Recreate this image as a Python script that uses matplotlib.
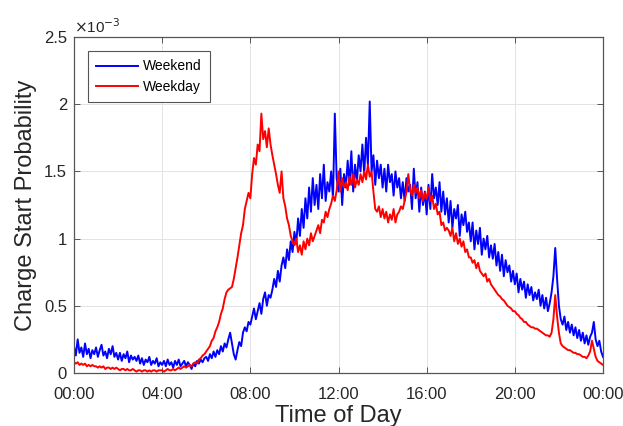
import numpy as np
import matplotlib
matplotlib.use('Agg')
import matplotlib.pyplot as plt

# charge start probability (units of 1e-3), one value every 5 minutes, 00:00 .. 24:00
weekend = [
    0.20, 0.13, 0.25, 0.15, 0.19, 0.12, 0.22, 0.14, 0.18, 0.11, 0.17, 0.14,
    0.19, 0.12, 0.17, 0.21, 0.13, 0.16, 0.11, 0.18, 0.14, 0.20, 0.12, 0.15,
    0.10, 0.15, 0.09, 0.14, 0.11, 0.16, 0.08, 0.13, 0.10, 0.12, 0.09, 0.13,
    0.07, 0.11, 0.06, 0.10, 0.08, 0.12, 0.06, 0.09, 0.07, 0.11, 0.05, 0.08,
    0.06, 0.09, 0.05, 0.10, 0.06, 0.08, 0.04, 0.09, 0.06, 0.10, 0.05, 0.07,
    0.09, 0.05, 0.08, 0.06, 0.03, 0.07, 0.05, 0.09, 0.07, 0.10, 0.08, 0.11,
    0.12, 0.09, 0.14, 0.11, 0.16, 0.12, 0.17, 0.14, 0.20, 0.16, 0.22, 0.19,
    0.25, 0.30, 0.22, 0.14, 0.10, 0.17, 0.23, 0.20, 0.30, 0.34, 0.31, 0.38,
    0.36, 0.42, 0.48, 0.40, 0.46, 0.52, 0.44, 0.55, 0.60, 0.50, 0.58, 0.56,
    0.62, 0.70, 0.64, 0.76, 0.68, 0.80, 0.86, 0.78, 0.92, 0.84, 0.98, 0.90,
    1.05, 0.96, 1.15, 1.02, 1.22, 1.08, 1.30, 1.15, 1.38, 1.20, 1.45, 1.25,
    1.40, 1.22, 1.48, 1.30, 1.55, 1.28, 1.42, 1.35, 1.50, 1.30, 1.93, 1.45,
    1.35, 1.52, 1.25, 1.48, 1.38, 1.58, 1.40, 1.65, 1.35, 1.55, 1.42, 1.62,
    1.50, 1.70, 1.48, 1.75, 1.55, 2.02, 1.50, 1.62, 1.40, 1.58, 1.45, 1.55,
    1.38, 1.52, 1.35, 1.55, 1.42, 1.48, 1.32, 1.50, 1.38, 1.45, 1.30, 1.42,
    1.28, 1.45, 1.35, 1.40, 1.22, 1.52, 1.30, 1.42, 1.20, 1.38, 1.25, 1.35,
    1.18, 1.40, 1.22, 1.48, 1.30, 1.38, 1.25, 1.42, 1.20, 1.35, 1.18, 1.30,
    1.12, 1.28, 1.08, 1.22, 1.15, 1.25, 1.02, 1.18, 1.10, 1.20, 1.05, 1.12,
    0.98, 1.12, 0.92, 1.06, 0.96, 1.08, 0.88, 1.00, 0.92, 1.02, 0.86, 0.95,
    0.85, 0.96, 0.80, 0.90, 0.76, 0.88, 0.72, 0.84, 0.75, 0.80, 0.68, 0.76,
    0.66, 0.74, 0.60, 0.70, 0.62, 0.68, 0.56, 0.66, 0.58, 0.64, 0.54, 0.60,
    0.55, 0.62, 0.50, 0.58, 0.48, 0.56, 0.46, 0.52, 0.60, 0.72, 0.93, 0.70,
    0.50, 0.40, 0.36, 0.42, 0.32, 0.38, 0.30, 0.36, 0.28, 0.34, 0.26, 0.32,
    0.24, 0.30, 0.22, 0.28, 0.21, 0.27, 0.30, 0.38, 0.25, 0.20, 0.24, 0.16,
    0.12]

weekday = [
    0.08, 0.07, 0.08, 0.06, 0.07, 0.06, 0.07, 0.05, 0.06, 0.05, 0.06, 0.05,
    0.05, 0.04, 0.05, 0.04, 0.05, 0.03, 0.04, 0.04, 0.03, 0.04, 0.03, 0.04,
    0.03, 0.02, 0.03, 0.03, 0.02, 0.03, 0.02, 0.02, 0.03, 0.02, 0.01, 0.02,
    0.02, 0.01, 0.02, 0.02, 0.01, 0.02, 0.01, 0.02, 0.02, 0.01, 0.02, 0.02,
    0.02, 0.01, 0.02, 0.03, 0.02, 0.02, 0.03, 0.02, 0.03, 0.04, 0.03, 0.04,
    0.05, 0.04, 0.05, 0.06, 0.05, 0.07, 0.08, 0.07, 0.10, 0.11, 0.13, 0.14,
    0.16, 0.18, 0.20, 0.24, 0.26, 0.31, 0.34, 0.38, 0.44, 0.48, 0.55, 0.60,
    0.62, 0.63, 0.64, 0.70, 0.78, 0.86, 0.95, 1.04, 1.10, 1.22, 1.28, 1.34,
    1.30, 1.48, 1.60, 1.55, 1.70, 1.65, 1.93, 1.74, 1.80, 1.68, 1.82, 1.70,
    1.62, 1.55, 1.48, 1.40, 1.34, 1.50, 1.30, 1.24, 1.15, 1.10, 1.02, 0.98,
    0.95, 1.00, 0.90, 0.95, 0.88, 0.98, 0.92, 1.00, 0.95, 1.04, 0.98, 1.02,
    1.06, 1.10, 1.04, 1.14, 1.12, 1.20, 1.16, 1.22, 1.26, 1.32, 1.28, 1.36,
    1.50, 1.35, 1.45, 1.38, 1.42, 1.36, 1.46, 1.40, 1.48, 1.38, 1.44, 1.40,
    1.48, 1.42, 1.50, 1.44, 1.55, 1.46, 1.50, 1.35, 1.22, 1.20, 1.24, 1.16,
    1.22, 1.15, 1.20, 1.12, 1.18, 1.14, 1.22, 1.12, 1.18, 1.20, 1.24, 1.22,
    1.28, 1.35, 1.48, 1.36, 1.32, 1.40, 1.34, 1.38, 1.30, 1.36, 1.28, 1.34,
    1.30, 1.38, 1.28, 1.32, 1.22, 1.26, 1.18, 1.20, 1.10, 1.12, 1.06, 1.08,
    1.06, 1.02, 1.08, 0.98, 1.04, 0.96, 1.00, 0.94, 0.98, 0.90, 0.92, 0.86,
    0.86, 0.82, 0.84, 0.78, 0.82, 0.76, 0.74, 0.72, 0.74, 0.68, 0.70, 0.66,
    0.64, 0.62, 0.60, 0.58, 0.57, 0.55, 0.54, 0.52, 0.50, 0.49, 0.48, 0.46,
    0.46, 0.44, 0.43, 0.41, 0.40, 0.38, 0.38, 0.36, 0.35, 0.34, 0.34, 0.33,
    0.33, 0.32, 0.31, 0.30, 0.29, 0.28, 0.28, 0.27, 0.30, 0.40, 0.58, 0.42,
    0.30, 0.22, 0.20, 0.19, 0.18, 0.17, 0.17, 0.16, 0.15, 0.15, 0.14, 0.14,
    0.13, 0.12, 0.12, 0.11, 0.13, 0.16, 0.24, 0.18, 0.12, 0.09, 0.08, 0.07,
    0.06]

hours = np.arange(len(weekend)) / 12.0
xticks = [0, 4, 8, 12, 16, 20, 24]
xticklabels = ['00:00', '04:00', '08:00', '12:00', '16:00', '20:00', '00:00']
yticks = [0, 0.5, 1, 1.5, 2, 2.5]
yticklabels = ['0', '0.5', '1', '1.5', '2', '2.5']

plt.rcParams['font.family'] = ['Liberation Sans', 'DejaVu Sans']

fig = plt.figure(figsize=(6.23, 4.26), dpi=100)
ax = fig.add_axes([74/623, 1 - 373/426, 529/623, 336/426])

ax.plot(hours, weekend, color='#0000ff', lw=1.4, label='Weekend')
ax.plot(hours, weekday, color='#ff0000', lw=1.4, label='Weekday')

ax.set_xlim(0, 24)
ax.set_ylim(0, 2.5)
ax.set_xticks(xticks)
ax.set_xticklabels(xticklabels)
ax.set_yticks(yticks)
ax.set_yticklabels(yticklabels)
ax.tick_params(direction='in', length=4, width=0.6, colors='#404040',
               labelsize=12, top=True, right=True, labelcolor='#262626')
ax.tick_params(axis='x', pad=10)
ax.tick_params(axis='y', pad=5)
ax.grid(True, color='#e3e3e3', lw=0.7)
ax.set_axisbelow(True)
for s in ax.spines.values():
    s.set_color('#555555')
    s.set_linewidth(0.9)

ax.set_xlabel('Time of Day', fontsize=17, color='#262626', labelpad=2)
ax.set_ylabel('Charge Start Probability', fontsize=17, color='#262626', labelpad=5)
ax.text(0.0, 1.004, r'$\times$10$^{-3}$', transform=ax.transAxes, fontsize=11,
        color='#262626', ha='left', va='bottom')

leg = ax.legend(loc='upper left', bbox_to_anchor=(0.026, 0.958), borderaxespad=0,
                fontsize=10, handlelength=3.0, fancybox=False, framealpha=1,
                borderpad=0.6, labelspacing=0.45, handletextpad=0.4)
leg.get_frame().set_edgecolor('#555555')
leg.get_frame().set_linewidth(0.8)

fig.savefig('out.png', dpi=100)
